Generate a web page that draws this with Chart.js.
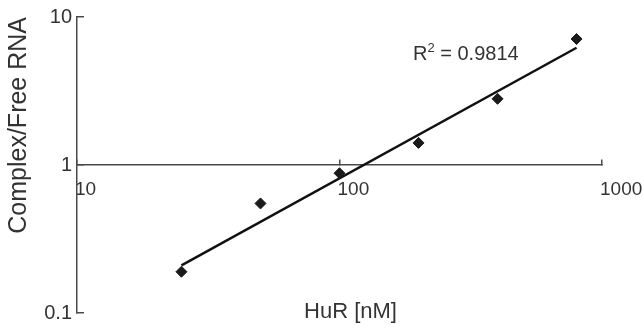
<!DOCTYPE html>
<html lang="en">
<head>
<meta charset="UTF-8">
<title>HuR binding</title>
<script src="https://cdn.jsdelivr.net/npm/chart.js@4.4.1/dist/chart.umd.min.js"></script>
<style>
  html, body { margin: 0; padding: 0; background: #fff; }
  .wrap { width: 644px; height: 329px; position: relative; }
</style>
</head>
<body>
<div class="wrap"><canvas id="c"></canvas></div>
<script>
// values
const hurConc = [25, 50, 100, 200, 400, 800];          // nM
const complexRatio = [0.19, 0.55, 0.88, 1.41, 2.8, 7.1];
const fitX = [25, 800];
const fitY = [0.21, 6.2];
const xTickValues = [10, 100, 1000];
const xTickLabels = ['10', '100', '1000'];
const yTickValues = [0.1, 1, 10];
const yTickLabels = ['0.1', '1', '10'];
const r2Text = '0.9814';

const FONT = '"Liberation Sans", Arial, sans-serif';
const TEXT = '#333';
const AXIS = '#4a4a4a';

// R^2 label with superscript
const r2Plugin = {
  id: 'r2',
  afterLayout(chart) {
    // x title sits a little right of the plot centre in the original
    chart.scales.x2.left += 22;
  },
  afterDatasetsDraw(chart) {
    const ctx = chart.ctx;
    let x = 413, y = 60;
    ctx.save();
    ctx.fillStyle = TEXT;
    ctx.textBaseline = 'alphabetic';
    ctx.font = '20px ' + FONT;
    ctx.fillText('R', x, y);
    x += ctx.measureText('R').width;
    ctx.font = '13px ' + FONT;
    ctx.fillText('2', x, y - 8);
    x += ctx.measureText('2').width;
    ctx.font = '20px ' + FONT;
    ctx.fillText(' = ' + r2Text, x, y);
    ctx.restore();
  }
};

// keep label overhang from shrinking the plot area
const noPad = s => { s.paddingTop = 0; s.paddingBottom = 0; s.paddingLeft = 0; s.paddingRight = 0; };

new Chart(document.getElementById('c'), {
  type: 'scatter',
  data: {
    datasets: [
      {
        data: hurConc.map((x, i) => ({ x: x, y: complexRatio[i] })),
        pointStyle: 'rectRot',
        pointRadius: 5.5,
        backgroundColor: '#1a1a1a',
        borderColor: '#1a1a1a',
        borderWidth: 1
      },
      {
        type: 'line',
        data: fitX.map((x, i) => ({ x: x, y: fitY[i] })),
        borderColor: '#111',
        borderWidth: 2.5,
        pointRadius: 0,
        fill: false
      }
    ]
  },
  options: {
    responsive: true,
    maintainAspectRatio: false,
    animation: false,
    layout: { padding: { left: 0, right: 42, top: 17, bottom: 0 } },
    plugins: { legend: { display: false }, tooltip: { enabled: false } },
    scales: {
      x: {
        type: 'logarithmic',
        min: 10,
        max: 1000,
        position: { y: 1 },
        afterFit: noPad,
        afterBuildTicks: s => { s.ticks = xTickValues.map(v => ({ value: v })); },
        ticks: {
          align: 'start',
          labelOffset: -2,
          maxRotation: 0,
          autoSkip: false,
          padding: 19,
          color: TEXT,
          font: { family: FONT, size: 19 },
          callback: (v, i) => xTickLabels[i]
        },
        grid: { drawOnChartArea: false, drawTicks: true, tickLength: -6, color: AXIS, lineWidth: 1.5 },
        border: { display: true, color: AXIS, width: 1.5 }
      },
      x2: {
        type: 'linear',
        position: 'bottom',
        min: 0,
        max: 1,
        afterFit: s => { noPad(s); s.height = 16; },
        ticks: { display: false },
        grid: { display: false },
        border: { display: false },
        title: {
          display: true,
          text: 'HuR [nM]',
          color: TEXT,
          font: { family: FONT, size: 22 },
          padding: { top: 0, bottom: 4 }
        }
      },
      y: {
        type: 'logarithmic',
        min: 0.1,
        max: 10,
        position: 'left',
        afterFit: s => { noPad(s); s.width = 77; },
        afterBuildTicks: s => { s.ticks = yTickValues.map(v => ({ value: v })); },
        ticks: {
          padding: 12,
          color: TEXT,
          font: { family: FONT, size: 20 },
          callback: (v, i) => yTickLabels[i]
        },
        grid: { drawOnChartArea: false, drawTicks: true, tickLength: -7, color: AXIS, lineWidth: 1.5 },
        border: { display: true, color: AXIS, width: 1.5 },
        title: {
          display: true,
          text: 'Complex/Free RNA',
          align: 'end',
          color: TEXT,
          font: { family: FONT, size: 25 },
          padding: { top: 4, bottom: 0 }
        }
      }
    }
  },
  plugins: [r2Plugin]
});
</script>
</body>
</html>
